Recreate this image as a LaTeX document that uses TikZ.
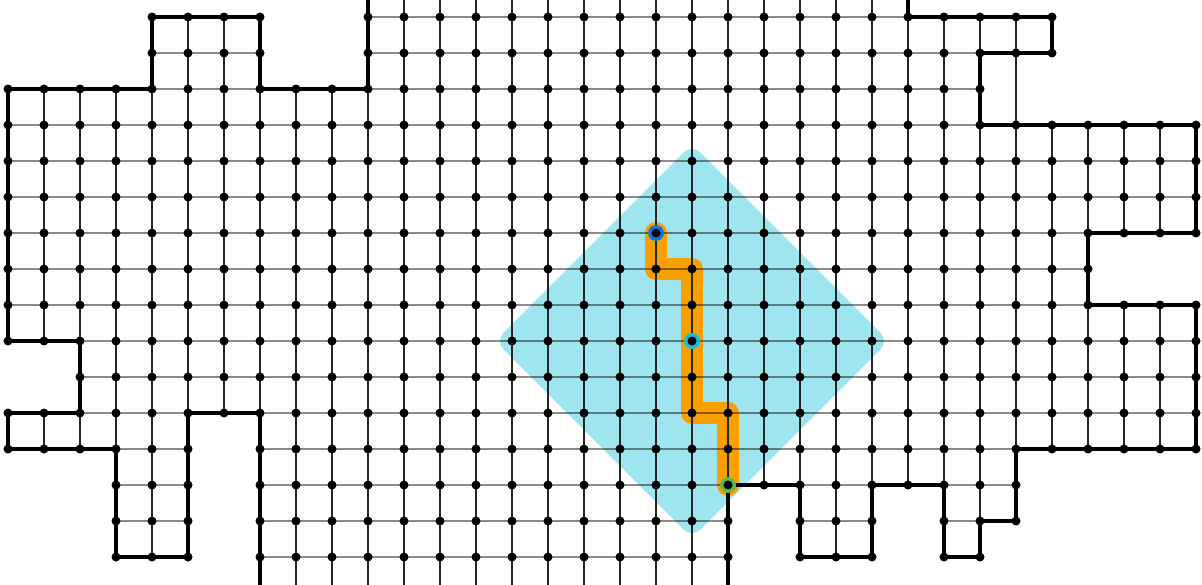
\documentclass[tikz,border=0pt]{standalone}
\definecolor{diamcol}{RGB}{159,229,240}
\definecolor{pathcol}{RGB}{249,160,0}
\definecolor{ringblue}{RGB}{20,115,230}
\definecolor{ringcyan}{RGB}{25,185,220}
\definecolor{ringgreen}{RGB}{95,185,70}
\def\rowlist{0/4/7,0/10/29,1/4/7,1/10/29,2/0/27,3/0/33,4/0/33,5/0/33,6/0/33,7/0/30,8/0/33,9/0/33,10/2/33,11/0/33,12/0/5,12/7/33,13/3/5,13/7/28,14/3/5,14/7/20,14/22/24,14/26/28,15/3/5,15/7/20,15/22/24,15/26/27}
\def\collist{0/2/9,0/11/12,1/2/9,1/11/12,2/2/12,3/2/15,4/0/15,5/0/15,6/0/11,7/0/15.8,8/2/15.8,9/2/15.8,10/-0.5/15.8,11/-0.5/15.8,12/-0.5/15.8,13/-0.5/15.8,14/-0.5/15.8,15/-0.5/15.8,16/-0.5/15.8,17/-0.5/15.8,18/-0.5/15.8,19/-0.5/15.8,20/-0.5/15.8,21/-0.5/13,22/-0.5/15,23/-0.5/15,24/-0.5/15,25/-0.5/13,26/0/15,27/0/15,28/0/14,29/0/1,29/3/12,30/3/12,31/3/6,31/8/12,32/3/6,32/8/12,33/3/6,33/8/12}
\begin{document}
\begin{tikzpicture}[x=36pt,y=-36pt,
  hline/.style={draw=black,draw opacity=0.45,line width=1.4pt},
  vline/.style={draw=black!85,line width=1.2pt},
  border/.style={draw=black,line width=3.4pt,line join=miter},
  vdot/.style={fill=black},
  ring/.style={fill=#1}]
\useasboundingbox (-0.2222,-0.4722) rectangle (33.1667,15.7778);
\clip (-0.2222,-0.4722) rectangle (33.1667,15.7778);
% coverage diamond
\filldraw[fill=diamcol,draw=diamcol,line width=24pt,line join=round]
  (19,4) -- (24,9) -- (19,14) -- (14,9) -- cycle;
% path
\draw[pathcol,line width=22pt,line join=round,line cap=round]
  (18,6) -- (18,7) -- (19,7) -- (19,11) -- (20,11) -- (20,13);
% grid
\foreach \i/\a/\b in \collist { \draw[vline] (\i,\a) -- (\i,\b); }
\foreach \j/\a/\b in \rowlist { \draw[hline] (\a,\j) -- (\b,\j); }
% boundary
\draw[border] (10,-0.6) -- (10,2) -- (7,2) -- (7,0) -- (4,0) -- (4,2) -- (0,2)
  -- (0,9) -- (2,9) -- (2,11) -- (0,11) -- (0,12) -- (3,12) -- (3,15) -- (5,15)
  -- (5,11) -- (7,11) -- (7,15.9);
\draw[border] (20,15.9) -- (20,13) -- (22,13) -- (22,15) -- (24,15) -- (24,13)
  -- (26,13) -- (26,15) -- (27,15) -- (27,14) -- (28,14) -- (28,12) -- (33,12)
  -- (33,8) -- (30,8) -- (30,6) -- (33,6) -- (33,3) -- (27,3) -- (27,1) -- (29,1)
  -- (29,0) -- (25,0) -- (25,-0.6);
% marked vertices
\fill[ring=ringblue] (18,6) circle (8pt);
\fill[ring=ringcyan] (19,9) circle (8pt);
\fill[ring=ringgreen] (20,13) circle (8pt);
% vertices
\foreach \j/\a/\b in \rowlist { \foreach \i in {\a,...,\b} { \fill[vdot] (\i,\j) circle (4.5pt); } }
\end{tikzpicture}
\end{document}
